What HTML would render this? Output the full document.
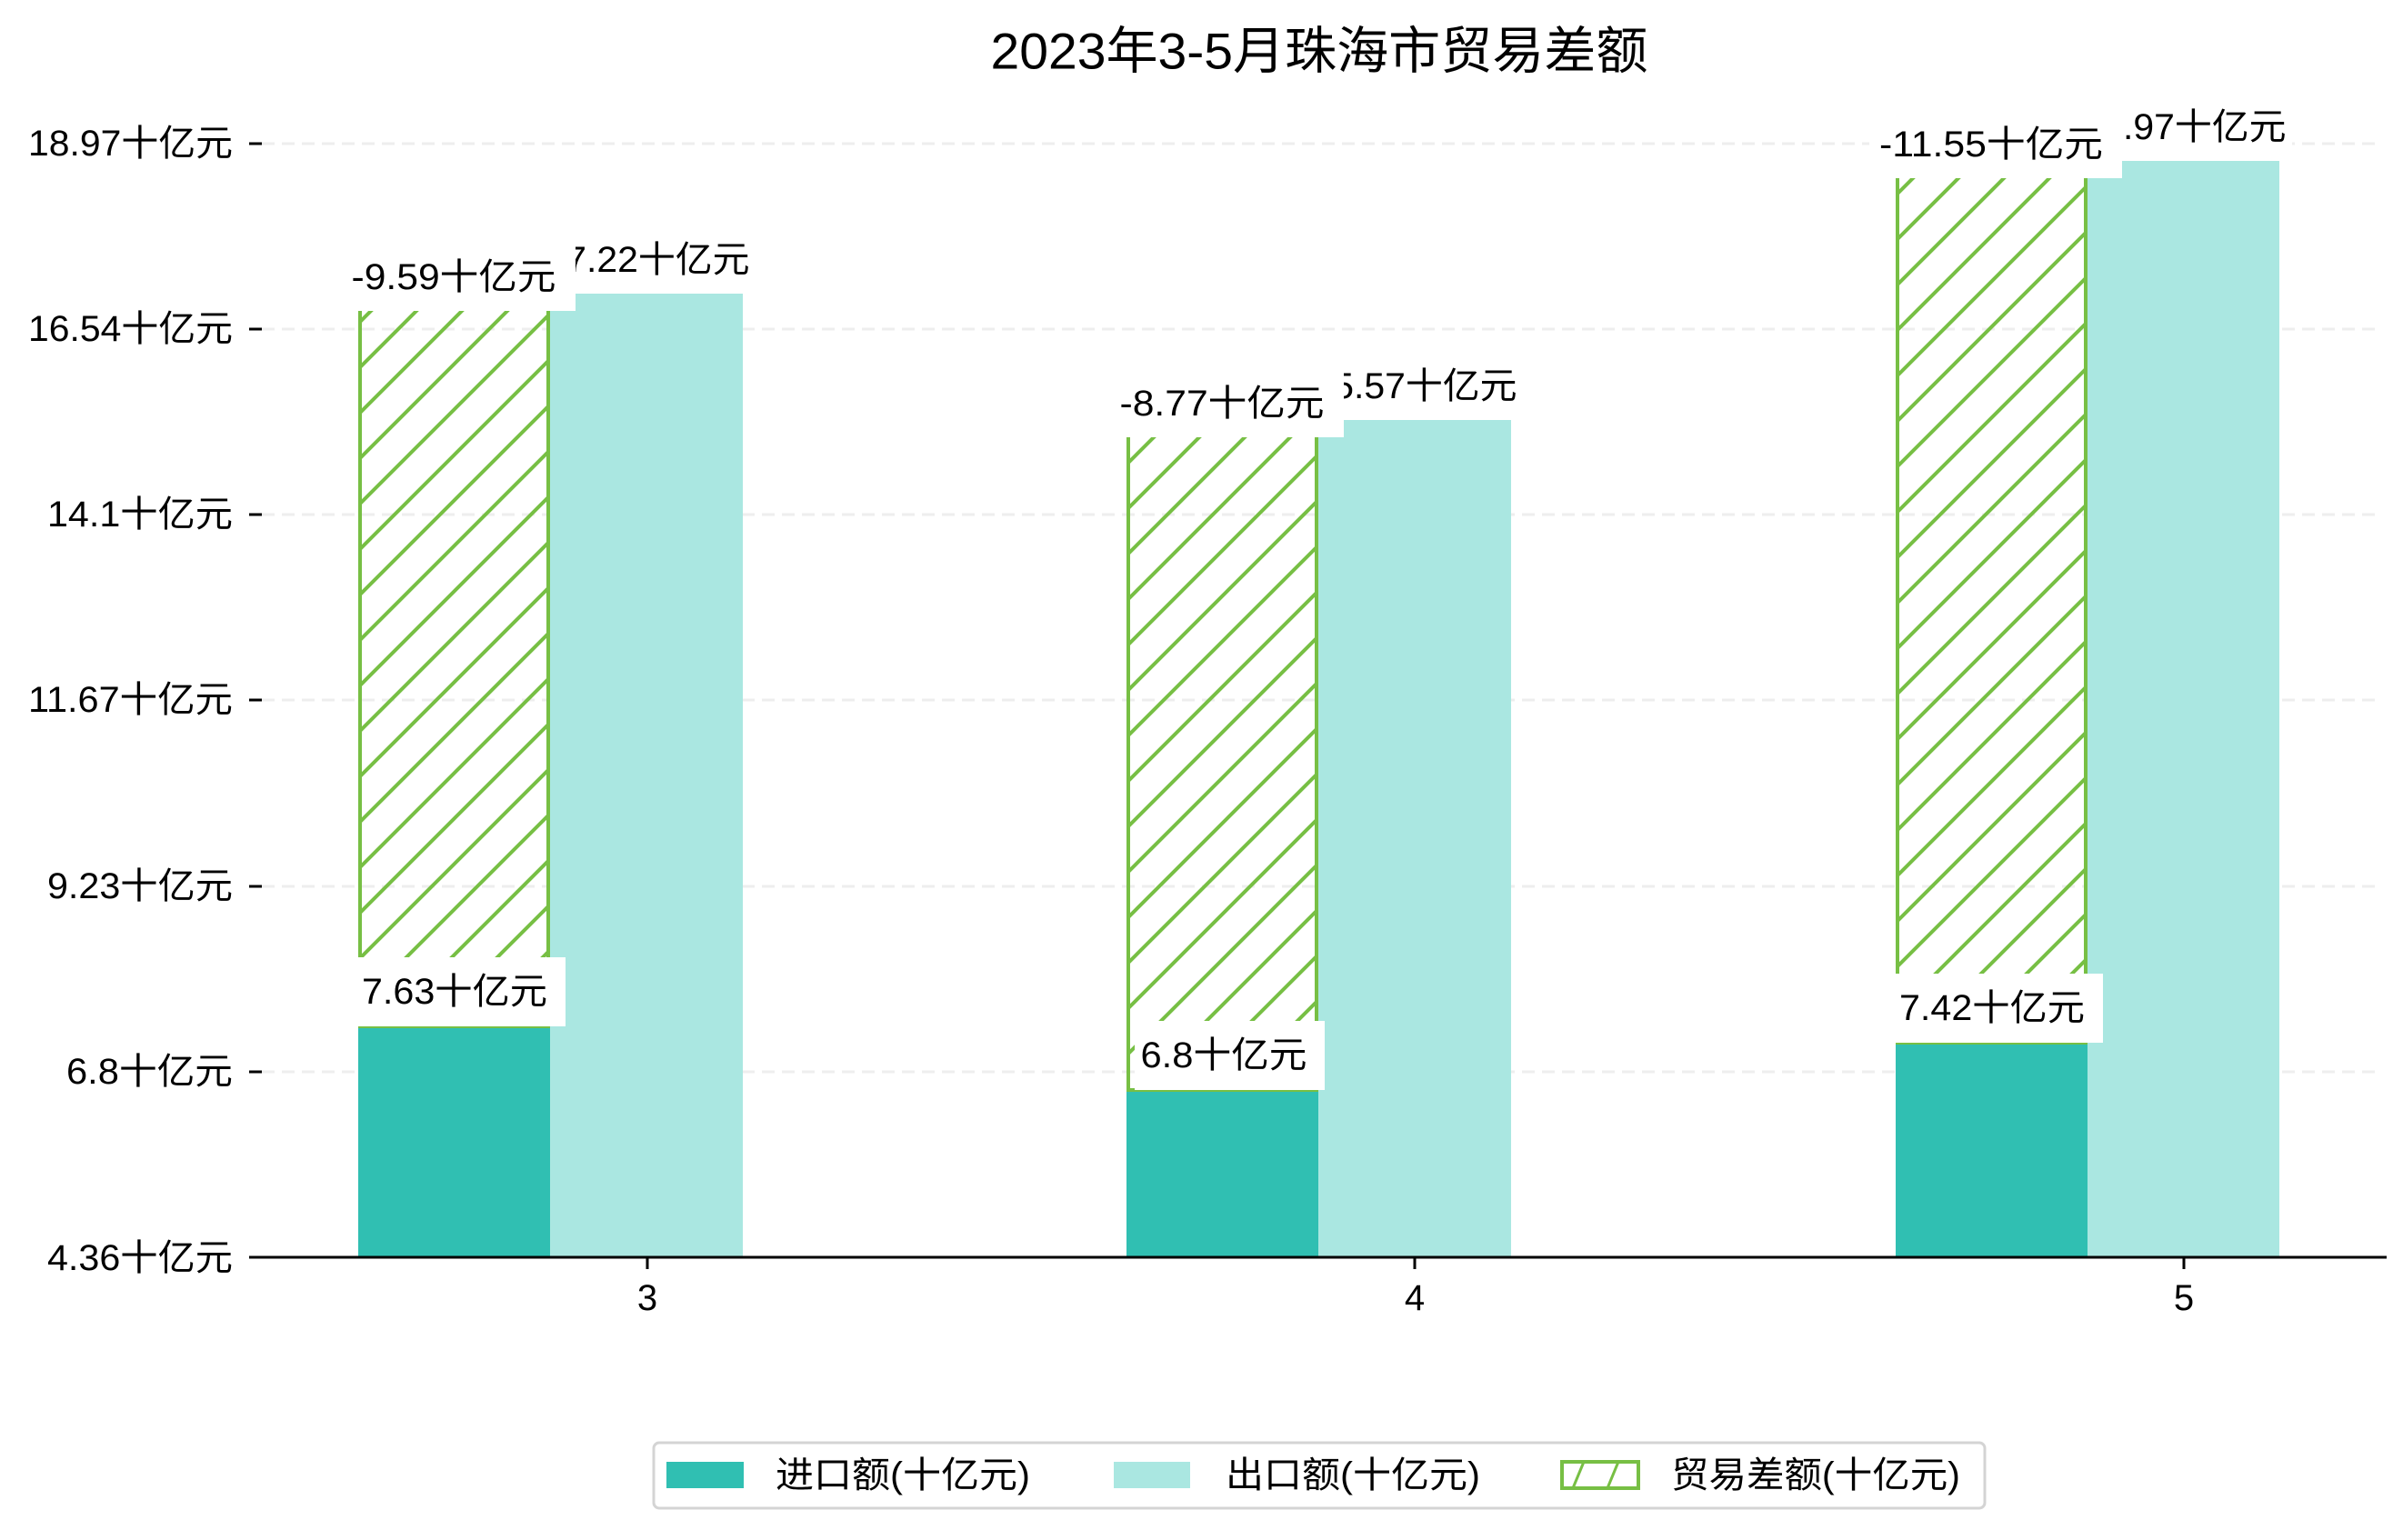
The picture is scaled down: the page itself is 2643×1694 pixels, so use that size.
<!DOCTYPE html>
<html><head><meta charset="utf-8"><style>
html,body{margin:0;padding:0;background:#fff;}
svg text{font-family:"Liberation Sans","WenQuanYi Zen Hei","Noto Sans CJK SC",sans-serif;fill:#000;}
</style></head><body>
<svg width="2643" height="1689" viewBox="0 0 2643 1689" xmlns="http://www.w3.org/2000/svg">
<defs>
<pattern id="h" patternUnits="userSpaceOnUse" width="50" height="50">
<path d="M-5,55 L55,-5 M-5,5 L5,-5 M45,55 L55,45" stroke="#77bf44" stroke-width="4" fill="none"/>
</pattern>
</defs>
<rect width="2643" height="1689" fill="#fff"/>
<text x="1451" y="56" font-size="56" text-anchor="middle" dominant-baseline="central" textLength="723" lengthAdjust="spacingAndGlyphs">2023年3-5月珠海市贸易差额</text>
<g stroke="#eeeeee" stroke-width="3" stroke-dasharray="14,8">
<line x1="288" y1="158" x2="2613" y2="158"/>
<line x1="288" y1="362" x2="2613" y2="362"/>
<line x1="288" y1="566" x2="2613" y2="566"/>
<line x1="288" y1="770" x2="2613" y2="770"/>
<line x1="288" y1="975" x2="2613" y2="975"/>
<line x1="288" y1="1179" x2="2613" y2="1179"/>
</g>
<g stroke="#000" stroke-width="3">
<line x1="274" y1="158" x2="288" y2="158"/>
<line x1="274" y1="362" x2="288" y2="362"/>
<line x1="274" y1="566" x2="288" y2="566"/>
<line x1="274" y1="770" x2="288" y2="770"/>
<line x1="274" y1="975" x2="288" y2="975"/>
<line x1="274" y1="1179" x2="288" y2="1179"/>
</g>
<g font-size="40" text-anchor="end" dominant-baseline="central">
<text x="256" y="158" textLength="225" lengthAdjust="spacingAndGlyphs">18.97十亿元</text>
<text x="256" y="362" textLength="225" lengthAdjust="spacingAndGlyphs">16.54十亿元</text>
<text x="256" y="566" textLength="204" lengthAdjust="spacingAndGlyphs">14.1十亿元</text>
<text x="256" y="770" textLength="225" lengthAdjust="spacingAndGlyphs">11.67十亿元</text>
<text x="256" y="975" textLength="204" lengthAdjust="spacingAndGlyphs">9.23十亿元</text>
<text x="256" y="1179" textLength="183" lengthAdjust="spacingAndGlyphs">6.8十亿元</text>
<text x="256" y="1384" textLength="204" lengthAdjust="spacingAndGlyphs">4.36十亿元</text>
</g>
<rect x="394" y="1129" width="211" height="253" fill="#30bfb2"/>
<rect x="605" y="323" width="212" height="1059" fill="#aae7e1"/>
<rect x="396" y="323" width="207" height="806" fill="url(#h)" stroke="#77bf44" stroke-width="4"/>
<rect x="1239" y="1199" width="211" height="183" fill="#30bfb2"/>
<rect x="1450" y="462" width="212" height="920" fill="#aae7e1"/>
<rect x="1241" y="462" width="207" height="737" fill="url(#h)" stroke="#77bf44" stroke-width="4"/>
<rect x="2085" y="1147" width="211" height="235" fill="#30bfb2"/>
<rect x="2296" y="177" width="211" height="1205" fill="#aae7e1"/>
<rect x="2087" y="177" width="207" height="970" fill="url(#h)" stroke="#77bf44" stroke-width="4"/>
<g font-size="40" text-anchor="middle" dominant-baseline="central">
<rect x="593" y="248" width="238" height="75" fill="#fff"/>
<text x="712" y="286" textLength="225" lengthAdjust="spacingAndGlyphs">17.22十亿元</text>
<rect x="1437" y="387" width="238" height="75" fill="#fff"/>
<text x="1556" y="425" textLength="225" lengthAdjust="spacingAndGlyphs">15.57十亿元</text>
<rect x="2283" y="102" width="238" height="75" fill="#fff"/>
<text x="2402" y="140" textLength="225" lengthAdjust="spacingAndGlyphs">18.97十亿元</text>
<rect x="376" y="270" width="257" height="72" fill="#fff"/>
<text x="499" y="305" textLength="225" lengthAdjust="spacingAndGlyphs">-9.59十亿元</text>
<rect x="1221" y="409" width="257" height="72" fill="#fff"/>
<text x="1344" y="444" textLength="225" lengthAdjust="spacingAndGlyphs">-8.77十亿元</text>
<rect x="2056" y="124" width="278" height="72" fill="#fff"/>
<text x="2190" y="159" textLength="246" lengthAdjust="spacingAndGlyphs">-11.55十亿元</text>
<rect x="392" y="1053" width="230" height="76" fill="#fff"/>
<text x="500" y="1091" textLength="204" lengthAdjust="spacingAndGlyphs">7.63十亿元</text>
<rect x="1248" y="1123" width="209" height="76" fill="#fff"/>
<text x="1346" y="1161" textLength="183" lengthAdjust="spacingAndGlyphs">6.8十亿元</text>
<rect x="2083" y="1071" width="230" height="76" fill="#fff"/>
<text x="2191" y="1109" textLength="204" lengthAdjust="spacingAndGlyphs">7.42十亿元</text>
</g>
<line x1="274" y1="1383" x2="2625" y2="1383" stroke="#000" stroke-width="3"/>
<g stroke="#000" stroke-width="3">
<line x1="712" y1="1383" x2="712" y2="1396"/>
<line x1="1556" y1="1383" x2="1556" y2="1396"/>
<line x1="2402" y1="1383" x2="2402" y2="1396"/>
</g>
<g font-size="40" text-anchor="middle" dominant-baseline="central">
<text x="712" y="1428">3</text>
<text x="1556" y="1428">4</text>
<text x="2402" y="1428">5</text>
</g>
<rect x="719" y="1587" width="1464" height="72" rx="6" fill="#fff" stroke="#d4d4d4" stroke-width="3"/>
<rect x="733" y="1608" width="85" height="29" fill="#30bfb2"/>
<rect x="1225" y="1608" width="84" height="29" fill="#aae7e1"/>
<rect x="1718" y="1608" width="84" height="29" fill="#fff" stroke="#77bf44" stroke-width="4"/>
<path d="M1730,1637 L1742,1608 M1768,1637 L1780,1608" stroke="#77bf44" stroke-width="3"/>
<g font-size="40" dominant-baseline="central">
<text x="853" y="1623" textLength="280" lengthAdjust="spacingAndGlyphs">进口额(十亿元)</text>
<text x="1348" y="1623" textLength="280" lengthAdjust="spacingAndGlyphs">出口额(十亿元)</text>
<text x="1838" y="1623" textLength="318" lengthAdjust="spacingAndGlyphs">贸易差额(十亿元)</text>
</g>
</svg>
</body></html>
